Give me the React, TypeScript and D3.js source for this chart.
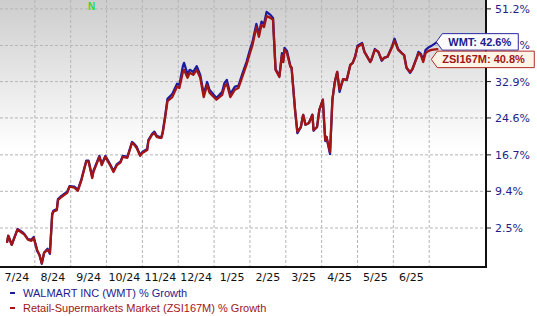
import React from 'react';
import * as d3 from 'd3';

const monthLabels = ['7/24', '8/24', '9/24', '10/24', '11/24', '12/24', '1/25', '2/25', '3/25', '4/25', '5/25', '6/25'];
const yTicks = [2.5, 9.4, 16.7, 24.6, 32.9, 41.7, 51.2];

const dates = [
  '2024-07-08', '2024-07-09', '2024-07-12', '2024-07-17', '2024-07-21', '2024-07-23', '2024-07-26', '2024-07-29', '2024-07-31',
  '2024-08-03', '2024-08-05', '2024-08-07', '2024-08-09', '2024-08-12', '2024-08-14', '2024-08-16', '2024-08-17', '2024-08-20',
  '2024-08-21', '2024-08-24', '2024-08-29', '2024-08-31', '2024-09-04', '2024-09-07', '2024-09-10', '2024-09-14', '2024-09-16',
  '2024-09-19', '2024-09-20', '2024-09-25', '2024-09-27', '2024-09-30', '2024-10-04', '2024-10-07', '2024-10-10', '2024-10-13',
  '2024-10-15', '2024-10-19', '2024-10-23', '2024-10-25', '2024-10-27', '2024-10-30', '2024-11-01', '2024-11-05', '2024-11-06',
  '2024-11-09', '2024-11-11', '2024-11-13', '2024-11-15', '2024-11-17', '2024-11-18', '2024-11-20', '2024-11-22', '2024-11-26',
  '2024-11-30', '2024-12-02', '2024-12-05', '2024-12-06', '2024-12-09', '2024-12-11', '2024-12-14', '2024-12-17', '2024-12-20',
  '2024-12-23', '2024-12-26', '2024-12-28', '2025-01-03', '2025-01-08', '2025-01-10', '2025-01-12', '2025-01-15', '2025-01-19',
  '2025-01-22', '2025-01-26', '2025-01-29', '2025-02-01', '2025-02-03', '2025-02-06', '2025-02-08', '2025-02-10', '2025-02-12',
  '2025-02-14', '2025-02-17', '2025-02-19', '2025-02-21', '2025-02-24', '2025-02-26', '2025-02-27', '2025-02-28', '2025-03-02',
  '2025-03-05', '2025-03-06', '2025-03-09', '2025-03-11', '2025-03-14', '2025-03-16', '2025-03-18', '2025-03-21', '2025-03-24',
  '2025-03-25', '2025-03-28', '2025-03-30', '2025-04-02', '2025-04-04', '2025-04-05', '2025-04-08', '2025-04-10', '2025-04-12',
  '2025-04-14', '2025-04-16', '2025-04-19', '2025-04-22', '2025-04-25', '2025-04-27', '2025-04-29', '2025-05-01', '2025-05-05',
  '2025-05-07', '2025-05-10', '2025-05-12', '2025-05-13', '2025-05-16', '2025-05-19', '2025-05-22', '2025-05-24', '2025-05-27',
  '2025-05-31', '2025-06-02', '2025-06-05', '2025-06-08', '2025-06-10', '2025-06-12', '2025-06-15', '2025-06-17', '2025-06-21',
  '2025-06-22', '2025-06-24', '2025-06-26', '2025-06-28', '2025-06-30', '2025-07-03', '2025-07-08',
];

const zsi = [
  0, 1.1, -0.5, 2.2, 1.6, 1.3, 0.4, 0.2, 0.7,
  -1.4, -2.3, -3.7, -1.9, -1.4, -1.9, 4.9, 5.5, 5.8,
  7.7, 8.3, 9.1, 10.3, 10.1, 9.5, 11.6, 15.3, 15.3,
  12.0, 13.2, 16.3, 14.6, 16.3, 14.6, 13.2, 14.6, 15.1,
  16.3, 16.1, 19.2, 18.8, 18.1, 16.5, 17.1, 17.7, 19.6,
  20.9, 21.3, 20.5, 20.3, 20.3, 21.3, 24.6, 28.4, 29.3,
  31.7, 31.4, 35.2, 35.7, 33.8, 35.0, 34.5, 35.7, 33.8,
  29.3, 32.1, 30.3, 28.7, 29.8, 31.7, 32.4, 29.3, 31.0,
  31.4, 34.5, 36.9, 39.8, 41.8, 46.4, 43.9, 47.0, 46.4,
  49.3, 48.8, 48.3, 35.7, 34.0, 39.3, 37.6, 40.6, 39.8,
  36.4, 36.2, 26.4, 21.6, 22.6, 25.3, 23.1, 23.5, 25.3,
  22.0, 22.6, 26.4, 28.7, 19.8, 20.5, 17.3, 28.7, 32.8,
  35.2, 31.0, 33.5, 33.3, 36.9, 37.4, 38.9, 41.3, 42.1,
  40.1, 38.6, 37.6, 38.1, 40.6, 40.1, 38.1, 38.6, 38.9,
  41.3, 42.9, 40.6, 39.8, 39.3, 36.2, 35.2, 35.9, 38.9,
  39.8, 39.3, 37.6, 39.8, 40.3, 40.6, 40.8,
];

const wmt = [
  0, 1.1, -0.5, 2.3, 1.8, 1.4, 0.5, 0.4, 0.9,
  -1.6, -2.3, -3.8, -1.9, -1.2, -2.1, 5.1, 5.7, 6.0,
  7.9, 8.5, 9.3, 10.4, 10.3, 9.7, 11.8, 15.5, 15.5,
  12.2, 13.4, 16.5, 14.8, 16.5, 14.8, 13.4, 14.8, 15.3,
  16.5, 16.3, 19.4, 19.0, 18.4, 16.7, 17.3, 17.9, 19.8,
  21.1, 21.6, 20.7, 20.5, 20.5, 21.6, 25.0, 28.9, 30.0,
  32.4, 32.1, 36.6, 37.4, 34.7, 35.7, 35.2, 36.6, 34.5,
  30.0, 32.8, 31.0, 29.1, 30.5, 32.6, 33.3, 30.0, 31.7,
  31.9, 35.2, 37.6, 40.6, 42.6, 47.2, 44.6, 47.8, 47.2,
  50.4, 49.6, 48.8, 35.9, 34.2, 39.8, 37.9, 41.1, 40.3,
  36.6, 36.2, 26.4, 21.3, 22.6, 25.3, 23.1, 23.5, 25.3,
  21.8, 22.6, 26.4, 28.7, 19.6, 20.5, 16.9, 28.7, 32.8,
  35.2, 30.5, 33.5, 33.3, 36.9, 37.4, 38.9, 41.6, 42.3,
  40.1, 38.6, 37.6, 38.1, 40.8, 40.1, 37.9, 38.6, 38.9,
  41.6, 43.4, 40.8, 39.8, 39.3, 36.2, 35.0, 35.9, 39.1,
  40.1, 39.6, 38.1, 40.6, 41.1, 41.6, 42.6,
];

const seriesNames = ['WALMART INC (WMT) % Growth', 'Retail-Supermarkets Market (ZSI167M) % Growth'];
const tagNames = ['WMT', 'ZSI167M'];

const W = 537;
const H = 316;
const plotRight = 486;
const plotBottom = 267;
const monthW = 35.85;
const x0 = -1;
const BLUE = '#1c1ca0';
const RED = '#a31515';
const AXFONT = '"DejaVu Sans", Verdana, sans-serif';
const ARIAL = '"Liberation Sans", Arial, sans-serif';

function datePos(s: string) {
  const [yy, mm, dd] = s.split('-').map(Number);
  const dim = new Date(yy, mm, 0).getDate();
  return (yy - 2024) * 12 + (mm - 7) + (dd - 1) / dim;
}

export default function App() {
  const x = d3.scaleLinear().domain([0, 13]).range([x0, x0 + 13 * monthW]);
  const y = d3.scaleLog().domain([1 - 4.35 / 100, 1 + 53.6 / 100]).range([plotBottom, 0]);
  const yv = (v: number) => y(1 + v / 100);
  const pos = dates.map(datePos);

  const line = d3
    .line<number>()
    .x((_, i) => x(pos[i]))
    .y((d) => yv(d));

  const lastX = x(pos[pos.length - 1]);
  const wY = yv(wmt[wmt.length - 1]);
  const zY = Math.max(yv(zsi[zsi.length - 1]), wY + 17.5);

  const tag = (tipX: number, cy: number, w: number) => {
    const h = 16.5;
    const p = d3.path();
    p.moveTo(tipX, cy);
    p.lineTo(tipX + 6, cy - h / 2);
    p.lineTo(tipX + w, cy - h / 2);
    p.lineTo(tipX + w, cy + h / 2);
    p.lineTo(tipX + 6, cy + h / 2);
    p.closePath();
    return p.toString();
  };

  return (
    <svg width={W} height={H} style={{ position: 'absolute', left: 0, top: 0, background: '#fff' }}>
      <defs>
        <linearGradient id="bg" x1="0" y1="0" x2="0" y2="1">
          <stop offset="0" stopColor="#cdcdcd" />
          <stop offset="0.56" stopColor="#ffffff" />
          <stop offset="1" stopColor="#ffffff" />
        </linearGradient>
        <clipPath id="plotClip">
          <rect x={0} y={0} width={plotRight} height={plotBottom} />
        </clipPath>
      </defs>
      <rect x={0} y={0} width={plotRight} height={plotBottom} fill="url(#bg)" />

      {d3.range(1, 13).map((k) => (
        <line key={'vg' + k} x1={x(k)} x2={x(k)} y1={0} y2={plotBottom} stroke="#b5b5b5" strokeDasharray="3,2" />
      ))}
      {yTicks.map((t) => (
        <line key={'hg' + t} x1={0} x2={plotRight} y1={yv(t)} y2={yv(t)} stroke="#b5b5b5" strokeDasharray="3,2" />
      ))}

      <g clipPath="url(#plotClip)" fill="none" strokeLinejoin="round" strokeLinecap="round">
        <path d={line(wmt) || ''} stroke={BLUE} strokeWidth={2.3} />
        <path d={line(zsi) || ''} stroke={RED} strokeWidth={2.3} />
      </g>

      <line x1={plotRight} x2={plotRight} y1={0} y2={plotBottom + 1} stroke="#111" strokeWidth={2} />
      <line x1={0} x2={plotRight + 1} y1={plotBottom} y2={plotBottom} stroke="#111" strokeWidth={2} />

      {yTicks.map((t) => (
        <g key={'yt' + t}>
          <line x1={plotRight} x2={plotRight + 5} y1={yv(t)} y2={yv(t)} stroke="#111" strokeWidth={1} />
          <text x={plotRight + 9} y={yv(t) + 4} fontFamily={AXFONT} fontSize={11} fill="#1e1e88">
            {t.toFixed(1) + '%'}
          </text>
        </g>
      ))}

      {monthLabels.map((m, k) => (
        <text key={m} x={x(k + 0.5)} y={281} textAnchor="middle" fontFamily={AXFONT} fontSize={11} fill="#111">
          {m}
        </text>
      ))}

      <text x={88} y={10} fontFamily={ARIAL} fontWeight="bold" fontSize={10} fill="#2fdc2f">
        N
      </text>

      <path d={tag(lastX - 1, wY, 82)} fill="#fbfbff" stroke="#2a2aa0" strokeWidth={1} />
      <text x={lastX + 11} y={wY + 4} fontFamily={ARIAL} fontWeight="bold" fontSize={11} fill="#1c1c8c">
        {`${tagNames[0]}: ${wmt[wmt.length - 1].toFixed(1)}%`}
      </text>
      <path d={tag(lastX - 6, zY, 103)} fill="#fdf4e6" stroke="#b02a2a" strokeWidth={1} />
      <text x={lastX + 5} y={zY + 4} fontFamily={ARIAL} fontWeight="bold" fontSize={11} fill="#a01515">
        {`${tagNames[1]}: ${zsi[zsi.length - 1].toFixed(1)}%`}
      </text>

      <line x1={10} x2={15} y1={293} y2={293} stroke={BLUE} strokeWidth={2} />
      <text x={23} y={297} fontFamily={ARIAL} fontSize={11} fill="#1c1c8c">
        {seriesNames[0]}
      </text>
      <line x1={10} x2={15} y1={308} y2={308} stroke={RED} strokeWidth={2} />
      <text x={23} y={312} fontFamily={ARIAL} fontSize={11} fill="#a01515">
        {seriesNames[1]}
      </text>
    </svg>
  );
}
